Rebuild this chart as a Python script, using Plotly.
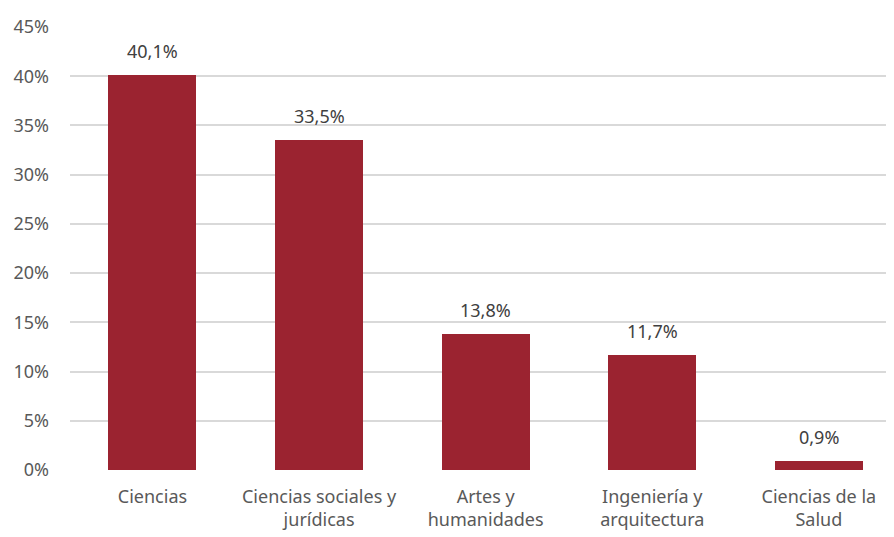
import plotly.graph_objects as go

categories = ["Ciencias", "Ciencias sociales y<br>jurídicas", "Artes y<br>humanidades",
              "Ingeniería y<br>arquitectura", "Ciencias de la<br>Salud"]
values = [40.1, 33.5, 13.8, 11.7, 0.9]
labels = ["40,1%", "33,5%", "13,8%", "11,7%", "0,9%"]
ytick_vals = [0, 0.05, 0.10, 0.15, 0.20, 0.25, 0.30, 0.35, 0.40, 0.45]

fracs = [v / 100 for v in values]
xs = list(range(len(categories)))

font_family = "Noto Sans, Lato, sans-serif"

fig = go.Figure()
fig.add_trace(go.Bar(
    x=xs, y=fracs, width=0.528,
    marker=dict(color="#9B2330", line=dict(width=0)),
    hoverinfo="skip",
))

for x, y, t in zip(xs, fracs, labels):
    fig.add_annotation(x=x, y=y, text=t, showarrow=False, yanchor="bottom",
                       yshift=10, font=dict(family=font_family, size=18, color="#404040"))

fig.update_layout(
    width=886, height=529,
    margin=dict(l=62, r=0, t=19, b=67),
    paper_bgcolor="white", plot_bgcolor="white",
    showlegend=False,
    separators=",.",
    bargap=0,
    font=dict(family=font_family, color="#595959", size=18),
)
fig.update_xaxes(
    range=[-0.495, 4.451],
    tickmode="array", tickvals=xs, ticktext=categories,
    showgrid=False, zeroline=False, showline=False, ticks="",
    ticklabelstandoff=14,
    tickfont=dict(family=font_family, size=18, color="#595959"),
)
fig.update_yaxes(
    range=[0, 0.45],
    tickmode="array", tickvals=ytick_vals, tickformat=".0%",
    showgrid=True, gridcolor="#D9D9D9", gridwidth=1.5,
    zeroline=False, showline=False, ticks="",
    ticklabelstandoff=20,
    tickfont=dict(family=font_family, size=18, color="#595959"),
)

fig.write_html("out.html")
